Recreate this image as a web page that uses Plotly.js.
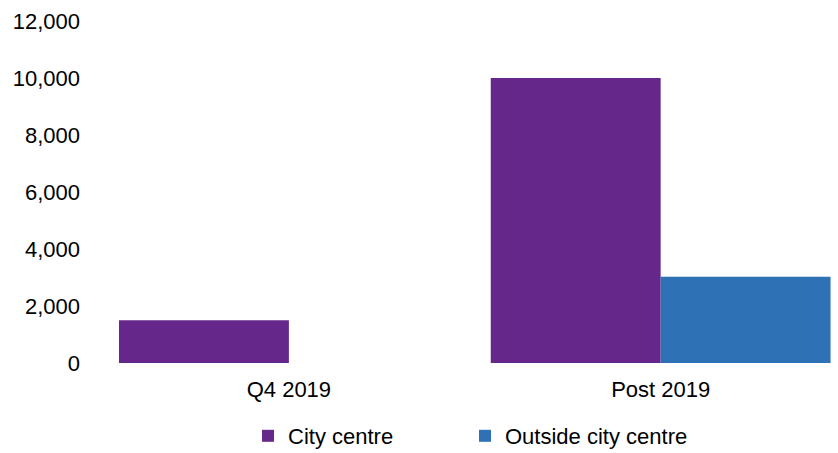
<!DOCTYPE html>
<html><head><meta charset="utf-8">
<script src="https://cdn.plot.ly/plotly-3.0.1.min.js"></script>
<style>body{margin:0;padding:0;background:#fff}#chart{width:838px;height:453px}</style>
</head><body><div id="chart"></div>
<script>
const categories = ["Q4 2019", "Post 2019"];
const cityCentre = [1500, 10000];
const outsideCityCentre = [0, 3030];
const seriesNames = ["City centre", "Outside city centre"];
const yTicks = [0, 2000, 4000, 6000, 8000, 10000, 12000];

const font = {family: "Liberation Sans, Arial, sans-serif", size: 22, color: "#000"};
const data = [
  {type: "bar", name: seriesNames[0], x: categories, y: cityCentre, marker: {color: "#65288A"}, legend: "legend"},
  {type: "bar", name: seriesNames[1], x: categories, y: outsideCityCentre, marker: {color: "#2E71B5"}, legend: "legend2"}
];
const legendBase = {orientation: "h", xref: "container", yref: "container", xanchor: "left", y: 1 - 436/453, yanchor: "middle", font: font, itemwidth: 30, bgcolor: "rgba(0,0,0,0)"};
const layout = {
  width: 838, height: 453,
  margin: {l: 103, r: 0, t: 21, b: 90, autoexpand: false},
  paper_bgcolor: "#fff", plot_bgcolor: "#fff",
  font: font,
  barmode: "group", bargap: 0.086, bargroupgap: 0,
  xaxis: {type: "category", range: [-0.5, 1.477], showgrid: false, zeroline: false, showline: false, ticks: "", tickfont: font, ticklabelstandoff: 11, automargin: false},
  yaxis: {range: [0, 12000], tickvals: yTicks, ticktext: yTicks.map(v => v.toLocaleString("en-US")), showgrid: false, zeroline: false, showline: false, ticks: "", tickfont: font, ticklabelstandoff: 22, automargin: false},
  showlegend: true,
  legend: Object.assign({}, legendBase, {x: 248/838}),
  legend2: Object.assign({}, legendBase, {x: 465/838})
};
Plotly.newPlot("chart", data, layout, {staticPlot: true});
</script></body></html>
